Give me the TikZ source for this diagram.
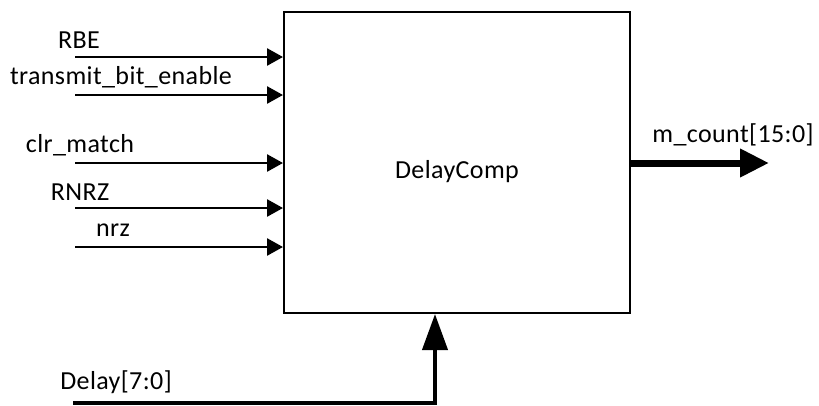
\documentclass[tikz,border=0pt]{standalone}
\usepackage{fontspec}
\setmainfont{Carlito}[LetterSpace=1.5]
\usetikzlibrary{arrows.meta}
\begin{document}
\begin{tikzpicture}[x=1pt,y=-1pt,
  lbl/.style={font=\fontsize{26}{29}\selectfont, inner sep=0pt},
  insig/.style={line width=2.6pt, -{Triangle[length=16pt,width=17pt]}},
  busin/.style={line width=4pt, -{Triangle[length=36pt,width=25pt]}},
  busout/.style={line width=7pt, -{Triangle[length=29pt,width=27pt]}}]
\useasboundingbox (0,0) rectangle (819,405);
% block
\node[draw, line width=2pt, minimum width=346pt, minimum height=301pt, inner sep=0pt] (dc) at (457,162.5) {};
\node[lbl] (dcname) at (457,172) {DelayComp};
% single-bit inputs
\coordinate (rbe) at (75,57);
\coordinate (tbe) at (75,95);
\coordinate (clr) at (75,163);
\coordinate (rnrz) at (75,208);
\coordinate (nrz) at (75,247);
\draw[insig] (rbe) -- (rbe -| dc.west);
\draw[insig] (tbe) -- (tbe -| dc.west);
\draw[insig] (clr) -- (clr -| dc.west);
\draw[insig] (rnrz) -- (rnrz -| dc.west);
\draw[insig] (nrz) -- (nrz -| dc.west);
\node[lbl] (lrbe) at (79,40) {RBE};
\node[lbl] (ltbe) at (121,77) {transmit\_bit\_enable};
\node[lbl] (lclr) at (80,145) {clr\_match};
\node[lbl] (lrnrz) at (80,192) {RNRZ};
\node[lbl] (lnrz) at (113,230) {nrz};
% delay bus
\coordinate (dly) at (73,403);
\coordinate (dlybend) at (435,403);
\draw[busin] (dly) -- (dlybend) -- (dlybend |- dc.south);
\node[lbl] (ldly) at (116,382) {Delay[7:0]};
% output bus
\coordinate (mc) at (769,163);
\draw[busout] (mc -| dc.east) -- (mc);
\node[lbl] (lmc) at (733,135) {m\_count[15:0]};
\end{tikzpicture}
\end{document}
